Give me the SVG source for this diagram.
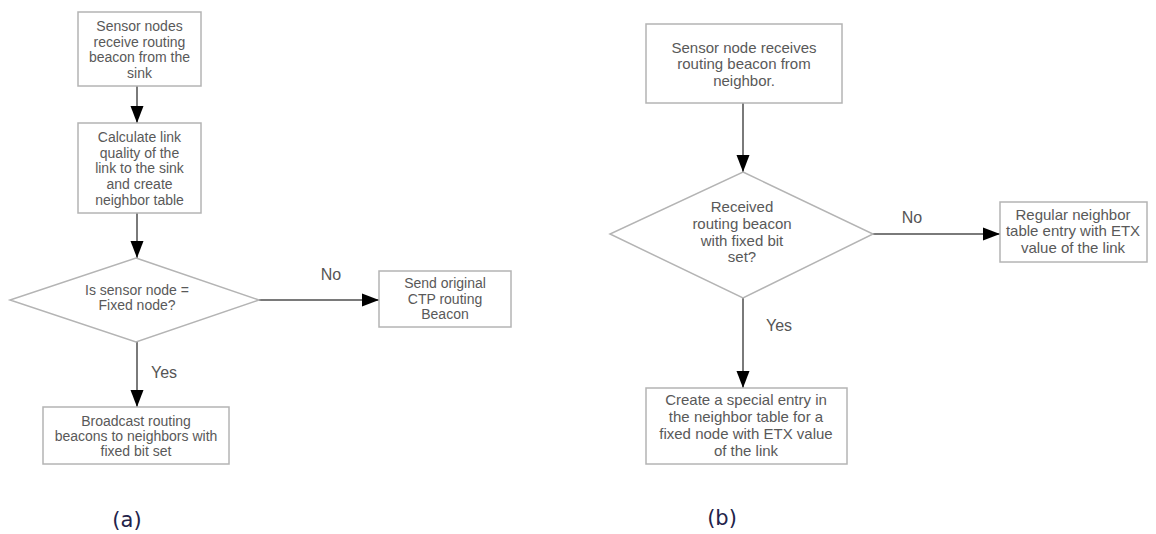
<svg xmlns="http://www.w3.org/2000/svg" width="1156" height="534" viewBox="0 0 1156 534">
<style>
.box{fill:#fff;stroke:#b4b4b4;stroke-width:1.5}
.t{font-family:"Liberation Sans",Arial,sans-serif;fill:#595959;text-anchor:middle}
.ta{font-size:14px}
.tb{font-size:15px}
.lbl{font-family:"Liberation Sans",Arial,sans-serif;fill:#555;font-size:16px;text-anchor:middle}
.cap{font-family:"DejaVu Sans",sans-serif;fill:#23234a;font-size:21px;text-anchor:middle}
.conn line{stroke:#7a7a7a;stroke-width:2;marker-end:url(#ah)}
</style>
<defs>
<marker id="ah" markerUnits="userSpaceOnUse" markerWidth="18" markerHeight="14" refX="17" refY="7" orient="auto">
<path d="M0,0.5 L17,7 L0,13.5 Z" fill="#000"/>
</marker>
</defs>
<rect width="1156" height="534" fill="#fff"/>
<g id="connectors" class="conn">
<line x1="137" y1="86" x2="137" y2="123"/>
<line x1="137" y1="213" x2="137" y2="258"/>
<line x1="259" y1="300" x2="379" y2="300"/>
<line x1="137" y1="342" x2="137" y2="407"/>
<line x1="743" y1="103" x2="743" y2="172"/>
<line x1="873" y1="234" x2="1000" y2="234"/>
<line x1="743" y1="298" x2="743" y2="388"/>
</g>
<g id="labels">
<text class="lbl" x="331" y="280">No</text>
<text class="lbl" x="164" y="378">Yes</text>
<text class="lbl" x="912" y="223">No</text>
<text class="lbl" x="779" y="331">Yes</text>
</g>
<g id="a1">
<rect class="box" x="78" y="12" width="123" height="74"/>
<text class="t ta" x="139.5" y="31">Sensor nodes</text>
<text class="t ta" x="139.5" y="47">receive routing</text>
<text class="t ta" x="139.5" y="62">beacon from the</text>
<text class="t ta" x="139.5" y="78">sink</text>
</g>
<g id="a2">
<rect class="box" x="78" y="123" width="123" height="90"/>
<text class="t ta" x="139.5" y="142">Calculate link</text>
<text class="t ta" x="139.5" y="158">quality of the</text>
<text class="t ta" x="139.5" y="173">link to the sink</text>
<text class="t ta" x="139.5" y="189">and create</text>
<text class="t ta" x="139.5" y="205">neighbor table</text>
</g>
<g id="a3">
<polygon class="box" points="136,258 259,300 136,342 10,300"/>
<text class="t ta" x="137" y="295">Is sensor node =</text>
<text class="t ta" x="137" y="310">Fixed node?</text>
</g>
<g id="a4">
<rect class="box" x="379" y="271" width="132" height="56"/>
<text class="t ta" x="445" y="288">Send original</text>
<text class="t ta" x="445" y="304">CTP routing</text>
<text class="t ta" x="445" y="319">Beacon</text>
</g>
<g id="a5">
<rect class="box" x="43" y="407" width="186" height="57"/>
<text class="t ta" x="136" y="426">Broadcast routing</text>
<text class="t ta" x="136" y="441">beacons to neighbors with</text>
<text class="t ta" x="136" y="456">fixed bit set</text>
</g>
<g id="b1">
<rect class="box" x="646" y="24" width="196" height="79"/>
<text class="t tb" x="744" y="53">Sensor node receives</text>
<text class="t tb" x="744" y="69">routing beacon from</text>
<text class="t tb" x="744" y="86">neighbor.</text>
</g>
<g id="b2">
<polygon class="box" points="743,172 873,234 743,298 610,234"/>
<text class="t tb" x="742" y="212">Received</text>
<text class="t tb" x="742" y="229">routing beacon</text>
<text class="t tb" x="742" y="245.5">with fixed bit</text>
<text class="t tb" x="742" y="262">set?</text>
</g>
<g id="b3">
<rect class="box" x="1000" y="202" width="147" height="60"/>
<text class="t tb" x="1073" y="220">Regular neighbor</text>
<text class="t tb" x="1073" y="236">table entry with ETX</text>
<text class="t tb" x="1073" y="253">value of the link</text>
</g>
<g id="b4">
<rect class="box" x="646" y="388" width="201" height="76"/>
<text class="t tb" x="746" y="405">Create a special entry in</text>
<text class="t tb" x="746" y="422">the neighbor table for a</text>
<text class="t tb" x="746" y="439">fixed node with ETX value</text>
<text class="t tb" x="746" y="456">of the link</text>
</g>
<g id="captions">
<text class="cap" x="127" y="527">(a)</text>
<text class="cap" x="722" y="525">(b)</text>
</g>
</svg>
